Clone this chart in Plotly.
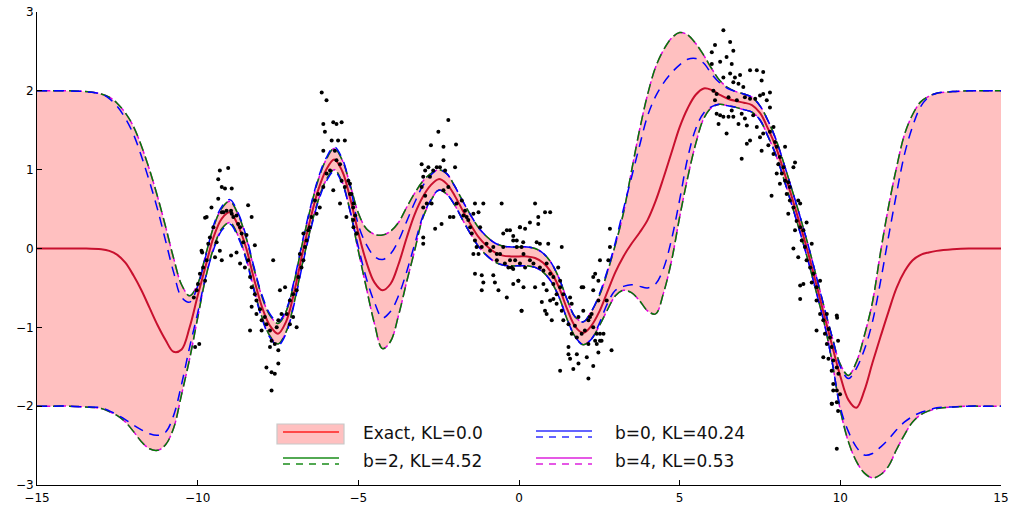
import plotly.graph_objects as go

# ---------------- data ----------------
grid_x = [-15, -14.5, -14, -13.5, -13, -12.75, -12.5, -12.25, -12, -11.75, -11.5, -11.25, -11,
          -10.75, -10.5, -10.25, -10, -9.75, -9.5, -9.25, -9, -8.75, -8.5, -8.25, -8, -7.75,
          -7.5, -7.25, -7, -6.75, -6.5, -6.25, -6, -5.75, -5.5, -5.25, -5, -4.75, -4.5, -4.25,
          -4, -3.75, -3.5, -3.25, -3, -2.75, -2.5, -2.25, -2, -1.75, -1.5, -1.25, -1, -0.75,
          -0.5, -0.25, 0, 0.25, 0.5, 0.75, 1, 1.25, 1.5, 1.75, 2, 2.25, 2.5, 2.75, 3, 3.25,
          3.5, 3.75, 4, 4.25, 4.5, 4.75, 5, 5.25, 5.5, 5.75, 6, 6.25, 6.5, 6.75, 7, 7.25, 7.5,
          7.75, 8, 8.25, 8.5, 8.75, 9, 9.25, 9.5, 9.75, 10, 10.25, 10.5, 10.75, 11, 11.25, 11.5,
          11.75, 12, 12.25, 12.5, 12.75, 13, 13.5, 14, 14.5, 15]

exact_mean = [0, 0, 0, 0, -0.01, -0.03, -0.08, -0.18, -0.34, -0.53, -0.75, -0.97, -1.16,
              -1.31, -1.28, -1.0, -0.6, -0.22, 0.15, 0.38, 0.46, 0.3, 0.02, -0.38, -0.74, -0.98,
              -1.08, -0.93, -0.56, -0.08, 0.36, 0.74, 1.0, 1.13, 0.98, 0.63, 0.2, -0.17, -0.43, -0.53,
              -0.45, -0.2, 0.13, 0.43, 0.65, 0.8, 0.88, 0.82, 0.67, 0.48, 0.3, 0.14, 0.03, -0.05,
              -0.09, -0.1, -0.1, -0.1, -0.12, -0.18, -0.3, -0.5, -0.77, -0.99, -1.07, -0.98, -0.8, -0.55, -0.3, -0.1,
              0.06, 0.2, 0.36, 0.6, 0.9, 1.22, 1.54, 1.78, 1.95, 2.03, 2.01, 1.95, 1.9, 1.87, 1.85, 1.82, 1.72,
              1.52, 1.28, 0.97, 0.64, 0.3, -0.06, -0.45, -0.85, -1.24, -1.62, -1.92, -2.02, -1.8, -1.45, -1.12, -0.8,
              -0.5, -0.29, -0.15, -0.08, -0.05, -0.03, -0.01, 0, 0, 0]

exact_upper = [2, 2, 2, 1.99, 1.96, 1.92, 1.84, 1.72, 1.55, 1.3, 1.0, 0.66, 0.28,
               -0.12, -0.46, -0.6, -0.45, -0.08, 0.28, 0.51, 0.6, 0.44, 0.15, -0.25, -0.61, -0.85,
               -0.95, -0.8, -0.43, 0.05, 0.49, 0.87, 1.13, 1.27, 1.12, 0.8, 0.45, 0.25, 0.18, 0.17,
               0.22, 0.33, 0.52, 0.7, 0.85, 0.95, 1.0, 0.95, 0.79, 0.6, 0.42, 0.26, 0.15, 0.07,
               0.03, 0.02, 0.02, 0.02, 0.0, -0.06, -0.18, -0.38, -0.65, -0.87, -0.93, -0.8, -0.6, -0.3, 0.05, 0.45,
               0.98, 1.5, 1.95, 2.3, 2.52, 2.67, 2.74, 2.71, 2.6, 2.45, 2.28, 2.13, 2.04, 1.99, 1.96, 1.92, 1.81,
               1.62, 1.38, 1.07, 0.74, 0.4, 0.04, -0.35, -0.75, -1.13, -1.47, -1.61, -1.44, -1.1, -0.68, -0.05, 0.53,
               1.03, 1.45, 1.7, 1.86, 1.93, 1.97, 1.99, 2, 2, 2]

exact_lower = [-2, -2, -2, -2.01, -2.03, -2.07, -2.12, -2.2, -2.32, -2.45, -2.54, -2.56, -2.49,
               -2.28, -1.85, -1.4, -0.88, -0.37, 0.01, 0.25, 0.33, 0.17, -0.11, -0.51, -0.87, -1.11,
               -1.21, -1.06, -0.69, -0.21, 0.23, 0.61, 0.87, 1.0, 0.84, 0.46, -0.03, -0.5, -0.95, -1.27,
               -1.18, -0.85, -0.43, -0.03, 0.38, 0.6, 0.74, 0.69, 0.55, 0.36, 0.18, 0.02, -0.09, -0.17,
               -0.21, -0.22, -0.22, -0.22, -0.24, -0.3, -0.42, -0.62, -0.9, -1.12, -1.22, -1.15, -0.98, -0.78, -0.6, -0.53,
               -0.56, -0.66, -0.79, -0.83, -0.56, -0.15, 0.4, 0.9, 1.33, 1.65, 1.79, 1.83, 1.81, 1.79, 1.76, 1.73, 1.63,
               1.42, 1.18, 0.87, 0.54, 0.2, -0.16, -0.55, -0.95, -1.45, -2.05, -2.45, -2.7, -2.85, -2.91, -2.87, -2.76,
               -2.55, -2.36, -2.2, -2.11, -2.06, -2.03, -2.01, -2, -2, -2]

b0_upper = [2, 2, 2, 1.99, 1.96, 1.9, 1.8, 1.65, 1.45, 1.17, 0.85, 0.5, 0.1,
            -0.3, -0.62, -0.68, -0.48, -0.1, 0.3, 0.53, 0.62, 0.46, 0.17, -0.23, -0.59, -0.83,
            -0.93, -0.78, -0.41, 0.07, 0.51, 0.89, 1.15, 1.29, 1.14, 0.78, 0.3, 0.05, -0.1, -0.14,
            -0.07, 0.1, 0.34, 0.58, 0.79, 0.93, 1.0, 0.95, 0.79, 0.6, 0.42, 0.26, 0.15, 0.07,
            0.03, 0.02, 0.02, 0.02, 0.0, -0.06, -0.18, -0.38, -0.65, -0.87, -0.93, -0.8, -0.58, -0.28, 0.08, 0.5,
            0.9, 1.3, 1.68, 1.93, 2.1, 2.23, 2.33, 2.4, 2.41, 2.35, 2.21, 2.1, 2.03, 1.99, 1.96, 1.92, 1.81,
            1.62, 1.38, 1.07, 0.74, 0.4, 0.04, -0.35, -0.75, -1.13, -1.5, -1.65, -1.52, -1.28, -0.93, -0.42, 0.15,
            0.7, 1.2, 1.55, 1.8, 1.92, 1.97, 1.99, 2, 2, 2]

b0_lower = [-2, -2, -2, -2.01, -2.02, -2.06, -2.11, -2.17, -2.24, -2.3, -2.35, -2.37, -2.33,
            -2.12, -1.72, -1.25, -0.82, -0.36, -0.01, 0.23, 0.31, 0.15, -0.13, -0.53, -0.89, -1.13,
            -1.23, -1.08, -0.71, -0.23, 0.21, 0.59, 0.85, 0.98, 0.82, 0.47, 0.02, -0.38, -0.68, -0.88,
            -0.8, -0.6, -0.3, 0.05, 0.4, 0.61, 0.74, 0.69, 0.55, 0.36, 0.18, 0.02, -0.09, -0.17,
            -0.21, -0.22, -0.22, -0.22, -0.24, -0.3, -0.42, -0.62, -0.9, -1.12, -1.22, -1.15, -0.95, -0.7, -0.53, -0.48,
            -0.46, -0.48, -0.5, -0.45, -0.25, 0.12, 0.62, 1.15, 1.52, 1.72, 1.8, 1.83, 1.81, 1.79, 1.76, 1.73, 1.63,
            1.42, 1.18, 0.87, 0.54, 0.2, -0.16, -0.55, -0.95, -1.45, -2.02, -2.32, -2.52, -2.62, -2.6, -2.52, -2.42,
            -2.3, -2.2, -2.13, -2.08, -2.05, -2.02, -2.01, -2, -2, -2]

# b=2 and b=4 bounds coincide with the exact bounds in the picture
b2_upper = exact_upper
b2_lower = exact_lower
b4_upper = exact_upper
b4_lower = exact_lower

data_x = [-10.08, -9.95, -10.03, -9.93, -9.83, -9.77, -9.72, -9.88, -9.67, -9.62, -9.51, -9.72, -9.57,
          -9.36, -9.25, -9.20, -9.10, -8.96, -8.94, -8.89, -8.79, -8.74, -8.68, -8.63, -8.58, -9.31,
          -9.05, -9.36, -9.25, -9.15, -8.94, -8.43, -8.32, -8.48, -9.41, -9.31, -9.25, -9.46, -8.96,
          -8.79, -8.68, -8.53, -8.43, -8.22, -8.37, -8.32, -8.22, -8.17, -8.06, -8.32, -8.17, -8.01,
          -7.91, -7.86, -7.75, -8.37, -8.01, -7.70, -7.60, -7.49, -7.75, -7.54, -7.49, -7.39, -7.44,
          -7.28, -7.23, -7.13, -7.03, -6.92, -7.13, -7.03, -6.92, -6.87, -6.77, -6.71, -6.82, -6.66,
          -6.61, -6.56, -6.71, -6.51, -6.46, -6.30, -6.20, -6.35, -6.25, -6.09, -5.99, -5.88, -5.78,
          -5.68, -5.57, -5.52, -5.42, -5.31, -5.26, -5.16, -5.57, -5.37, -5.16, -5.06, -7.86, -7.70,
          -7.60, -7.49, -7.70, -7.65, -6.14, -5.99, -6.09, -5.78, -5.68, -5.52, -6.04, -5.83, -5.63,
          -5.73, -5.42, -6.09, -9.99, -9.86, -9.77, -10.12,
          -5.26, -5.21, -5.15, -5.10, -5.15, -5.05, -3.03, -2.92, -2.82, -2.98, -2.77, -2.67, -2.56,
          -2.46, -2.35, -2.30, -2.51, -2.20, -2.74, -2.35, -1.96, -1.99, -3.03, -2.92, -2.87, -2.98,
          -2.72, -2.98, -2.98, -2.61, -2.41, -2.15, -2.04, -2.35, -2.20, -1.94, -1.78, -1.68, -1.63,
          -1.73, -1.58, -1.52, -1.42, -1.37, -1.26, -1.11, -1.47, -1.37, -1.32, -1.16, -1.01, -0.90,
          -0.80, -0.69, -0.59, -0.49, -0.54, -1.21, -1.26, -1.42, -1.37, -1.16, -1.11, -1.16, -0.80,
          -0.75, -0.64, -0.38, -0.69, -0.44, -0.33, -0.28, -0.18, -0.02, 0.08, 0.08, 0.03, 0.13,
          -0.38, -0.18, -0.07, -0.49,
          -0.28, -0.18, -0.07, -0.23, -0.12, 0.03, 0.14, 0.19, -0.18, -0.02, 0.08, 0.14, 0.03, 0.19,
          0.34, 0.50, 0.60, 0.60, 0.81, 0.97, 0.55, 0.65, 0.91, 1.33, 0.34, 0.45, 0.65, 0.76, 0.86,
          0.97, 1.07, 1.22, 1.28, 0.50, 0.76, 0.86, 1.07, 1.17, 1.28, 1.38, 0.97, 1.07, 1.17, 1.33,
          0.71, 0.86, 0.81, 1.02, 1.38, 1.59, 1.64, 1.95, 2.00, 2.00, 1.54, 1.74, 1.85, 1.64, 1.80,
          1.95, 2.05, 2.16, 2.21, 2.26, 2.31, 2.42, 2.37, 2.52, 2.16, 1.54, 1.54, 1.80, 2.11, 1.59,
          1.85, 1.69, 2.31, 1.28, 2.16, 2.88, 2.31, 2.37, 2.47, 2.52, 2.78, 2.83, 2.83, 2.63, 2.52,
          2.42, 2.47, 2.57, 2.73, 2.31, 2.47,
          6.36, 6.00, 6.10, 6.57, 6.67, 6.26, 6.46, 6.62, 6.00, 6.36, 6.57, 6.72, 6.88, 7.19, 7.40,
          7.60, 7.55, 6.67, 6.83, 6.98, 6.05, 6.15, 6.10, 6.52, 6.78, 7.03, 7.19, 7.35, 7.50, 7.60,
          7.81, 7.71, 7.81, 6.15, 6.26, 6.36, 6.21, 6.52, 6.62, 6.67, 6.93, 7.03, 7.29, 6.46, 6.83,
          7.09, 7.40, 6.93, 7.09, 7.19, 7.50, 7.60, 7.81, 7.92, 7.55, 7.76, 7.97, 8.02, 7.92, 8.28,
          8.12, 8.07, 8.18, 8.02, 8.28, 8.12, 8.38, 8.23, 8.59, 8.54, 8.43, 7.86, 8.33, 8.43, 8.54,
          8.69, 8.75, 8.38, 8.64, 8.75, 8.85, 8.95, 8.59, 8.80, 8.54, 8.69, 8.90, 9.11, 8.95, 9.06,
          8.85, 8.75, 8.75, 9.16, 9.11, 9.26, 9.37, 9.26, 9.37, 9.47, 9.58, 9.26, 9.52, 9.63, 9.68,
          9.58, 9.73, 9.47, 9.63, 9.78, 9.89, 9.94, 9.73, 9.78, 9.89, 9.99, 9.89, 9.73, 9.89, 9.89,
          9.90, 9.93, 9.78, 9.74, 9.93]

data_y = [-1.25, -1.21, -0.53, -0.32, -0.24, -0.41, -0.15, -0.03, 0.06, 0.14, 0.27, 0.40, 0.52,
          0.63, 0.46, 0.46, 0.48, 0.48, 0.44, 0.40, 0.42, 0.31, 0.27, 0.19, 0.08, 0.99,
          1.02, 0.88, 0.78, 0.76, 0.76, 0.55, 0.40, 0.17, 0.08, -0.03, -0.15, -0.11, -0.09,
          -0.05, -0.19, -0.24, -0.15, 0.04, -0.36, -0.49, -0.58, -0.66, -0.77, -0.74, -0.83, -0.91,
          -0.87, -0.96, -1.04, -1.04, -1.04, -1.17, -1.21, -1.29, -1.25, -1.00, -0.91, -0.83, -0.53,
          -0.49, -0.83, -0.96, -0.87, -1.00, -0.66, -0.58, -0.53, -0.36, -0.24, -0.15, -0.07, 0.02,
          0.10, 0.23, 0.19, 0.27, 0.40, 0.44, 0.52, 0.61, 0.69, 0.78, 0.95, 0.99, 0.74,
          1.12, 1.07, 0.86, 0.78, 0.86, 0.69, 0.52, 0.57, 0.40, 0.36, 0.19, -1.51, -1.57,
          -1.59, -1.46, -1.80, -0.15, 1.98, 1.88, 1.58, 1.60, 1.58, 1.60, 1.48, 1.37, 1.37,
          1.24, 1.37, 1.24, -0.45, -0.05, 0.39, -0.62,
          0.82, 0.69, 0.57, 0.42, 0.27, 0.19, 1.07, 0.99, 1.03, 0.91, 0.91, 0.99, 1.03,
          1.03, 1.12, 0.99, 1.48, 1.63, 1.31, 1.29, 1.32, 1.03, 0.78, 0.67, 0.57, 0.52,
          0.57, 0.14, 0.06, 0.25, 0.31, 0.40, 0.40, 0.74, 0.78, 0.57, 0.61, 0.48, 0.40,
          0.42, 0.36, 0.27, 0.44, 0.57, 0.46, 0.57, 0.19, 0.10, 0.02, 0.02, 0.06, -0.03,
          0.02, -0.07, -0.07, 0.02, 0.57, 0.27, -0.07, -0.07, -0.32, -0.34, -0.43, -0.53, -0.34,
          -0.43, -0.53, -0.62, -0.15, -0.19, -0.24, -0.15, -0.26, -0.41, -0.79, 0.02, 0.27, 0.08,
          0.23, 0.16, 0.10, 0.19,
          0.23, 0.10, 0.02, -0.24, -0.15, -0.19, -0.07, -0.24, -0.45, -0.41, -0.79, -0.49, 0.27, 0.25,
          0.33, 0.57, 0.40, 0.31, 0.46, 0.46, 0.08, 0.06, 0.06, 0.02, -0.15, -0.19, -0.24, -0.28, -0.19,
          -0.32, -0.36, -0.24, -0.41, -0.49, -0.45, -0.53, -0.45, -0.58, -0.49, -0.58, -0.66, -0.64, -0.70, -0.79,
          -0.68, -0.83, -0.79, -0.91, -0.91, -0.62, -0.70, -0.49, -0.49, -0.79, -0.96, -0.98, -0.87, -1.08, -1.13,
          -1.08, -1.04, -0.91, -0.87, -0.83, -1.00, -1.08, -1.17, -1.08, -1.21, -1.25, -1.34, -1.34, -1.38, -1.40,
          -1.46, -1.53, -1.49, -1.55, -1.65, -1.29, -0.36, -0.32, -0.66, -0.15, -0.15, 0.02, 0.25, -1.08, -1.17,
          -1.21, -1.32, -1.17, -0.66, -0.53, -0.41,
          2.77, 2.49, 2.58, 2.62, 2.51, 2.37, 2.43, 2.34, 2.34, 2.17, 2.22, 2.17, 2.20, 2.26, 2.26,
          2.24, 2.13, 2.11, 2.09, 2.05, 2.00, 1.96, 1.88, 1.92, 1.88, 1.92, 1.90, 1.90, 1.94, 1.96,
          1.98, 1.88, 1.79, 1.71, 1.69, 1.67, 1.58, 1.67, 1.75, 1.67, 1.71, 1.65, 1.69, 1.46, 1.58,
          1.56, 1.54, 1.14, 1.33, 1.37, 1.41, 1.46, 1.48, 1.54, 1.24, 1.31, 1.35, 1.29, 1.20, 1.29,
          1.16, 1.07, 0.95, 0.95, 0.86, 0.82, 0.84, 1.03, 1.09, 1.03, 0.78, 0.67, 0.69, 0.61, 0.52,
          0.61, 0.57, 0.44, 0.35, 0.27, 0.23, 0.33, 0.23, 0.10, 0.00, -0.11, 0.02, 0.06, -0.15, -0.24,
          -0.45, -0.47, -0.64, -0.32, -0.43, -0.49, -0.41, -0.66, -0.83, -0.91, -0.83, -1.04, -1.08, -1.02, -1.13,
          -1.21, -1.25, -1.38, -1.40, -1.42, -1.51, -1.59, -1.55, -1.72, -1.80, -1.85, -1.95, -1.97, -2.54, -0.85,
          -0.88, -1.17, -1.80, -1.97, -2.06]

x_ticks = [-15, -10, -5, 0, 5, 10, 15]
y_ticks = [-3, -2, -1, 0, 1, 2, 3]

legend_labels = ["Exact, KL=0.0", "b=2, KL=4.52", "b=0, KL=40.24", "b=4, KL=0.53"]

# ---------------- styles ----------------
PINK = "#ffc0c0"
MEAN = "#c8102e"
BLUE = "#0000ff"
GREEN = "#008000"
MAGENTA = "#e000e0"

fig = go.Figure()

# uncertainty band (exact)
fig.add_trace(go.Scatter(x=grid_x, y=exact_upper, mode="lines", line=dict(width=0, shape="spline"),
                         hoverinfo="skip"))
fig.add_trace(go.Scatter(x=grid_x, y=exact_lower, mode="lines", line=dict(width=0, shape="spline"),
                         fill="tonexty", fillcolor=PINK, hoverinfo="skip"))

def dashed(y, color, dash, width=1.5):
    fig.add_trace(go.Scatter(x=grid_x, y=y, mode="lines",
                             line=dict(color=color, width=width, dash=dash, shape="spline")))

dashed(b4_upper, MAGENTA, "13px,3px")
dashed(b4_lower, MAGENTA, "13px,3px")
dashed(b2_upper, GREEN, "10px,6px")
dashed(b2_lower, GREEN, "10px,6px")
dashed(b0_upper, BLUE, "10px,7px")
dashed(b0_lower, BLUE, "10px,7px")

fig.add_trace(go.Scatter(x=grid_x, y=exact_mean, mode="lines",
                         line=dict(color=MEAN, width=2, shape="spline")))

fig.add_trace(go.Scatter(x=data_x, y=data_y, mode="markers",
                         marker=dict(color="black", size=4, line=dict(width=0))))

# ---------------- manual legend (paper coords, window pixels of the plot area) ----------------
def px2p(px):
    return (px - 37) / 964.0

def py2p(py):
    return (485 - py) / 473.0

shapes = []
shapes.append(dict(type="rect", xref="paper", yref="paper", x0=px2p(277), x1=px2p(344),
                   y0=py2p(444), y1=py2p(424), fillcolor=PINK, line=dict(color="#c8c8c8", width=1.2)))
def legline(x0, x1, y, color, dash="solid"):
    shapes.append(dict(type="line", xref="paper", yref="paper", x0=px2p(x0), x1=px2p(x1),
                       y0=py2p(y), y1=py2p(y), line=dict(color=color, width=1.5, dash=dash)))

legline(283, 339, 432, "#ff2020")
legline(283, 339, 458, "#1a8c1a")
legline(283, 339, 464, "#1a8c1a", "7px,6px")
legline(536, 592, 431, "#3030ff")
legline(536, 592, 437, "#3030ff", "7px,6px")
legline(536, 592, 458, "#dd22dd")
legline(536, 592, 464, "#dd22dd", "7px,6px")

annotations = []
for label, (px, py) in zip(legend_labels, [(361, 433), (361, 461), (613, 433), (613, 461)]):
    annotations.append(dict(text=label, xref="paper", yref="paper", x=px2p(px), y=py2p(py),
                            xanchor="left", yanchor="middle", showarrow=False,
                            font=dict(family="DejaVu Sans", size=17, color="#111111")))

axis_common = dict(showline=True, linecolor="black", linewidth=1, ticks="inside", ticklen=5,
                   tickcolor="black", showgrid=False, zeroline=False, mirror=False,
                   automargin=False, ticklabeloverflow="allow",
                   tickfont=dict(family="DejaVu Sans", size=12, color="black"))

fig.update_layout(
    width=1013, height=508,
    margin=dict(l=37, r=12, t=12, b=23, autoexpand=False),
    paper_bgcolor="white", plot_bgcolor="white",
    showlegend=False,
    shapes=shapes, annotations=annotations,
    xaxis=dict(range=[-15, 15], tickvals=x_ticks, ticklabelstandoff=2, **axis_common),
    yaxis=dict(range=[-3, 3], tickvals=y_ticks, **axis_common),
)

# remove the default page margin so the figure sits at the window origin
fig.write_html("out.html", config={"displayModeBar": False},
               post_script="document.body.style.margin='0px';")
